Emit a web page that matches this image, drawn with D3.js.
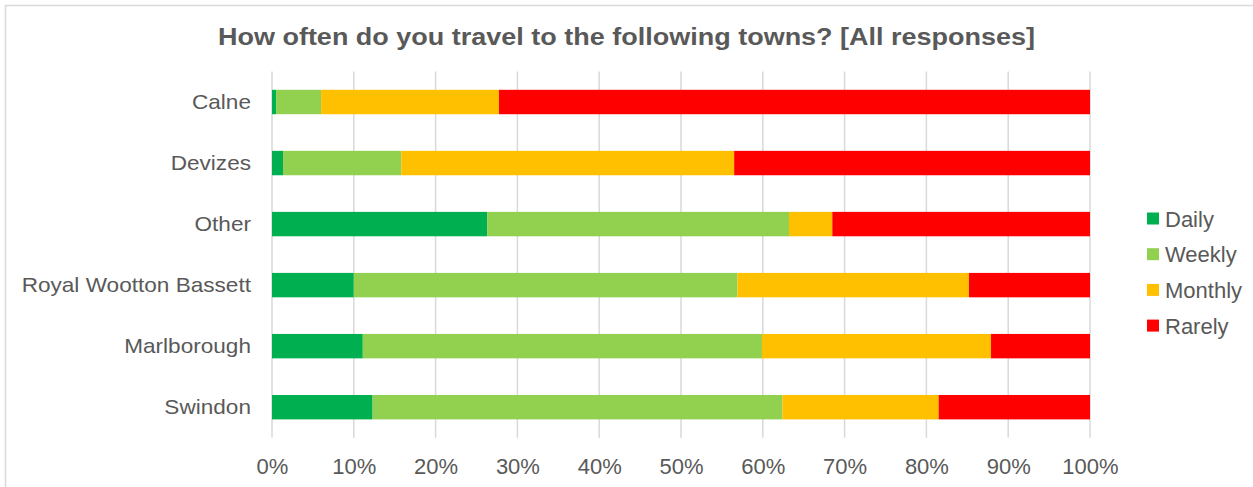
<!DOCTYPE html>
<html>
<head>
<meta charset="utf-8">
<script src="https://cdn.jsdelivr.net/npm/d3@7"></script>
<style>
  html, body { margin: 0; padding: 0; background: #fff; }
  svg { display: block; font-family: "Liberation Sans", Arial, Helvetica, sans-serif; }
</style>
</head>
<body>
<svg id="chart" width="1253" height="487"></svg>
<script>
// ---- Data ----
const title = "How often do you travel to the following towns? [All responses]";
const categories = ["Calne", "Devizes", "Other", "Royal Wootton Bassett", "Marlborough", "Swindon"];
const seriesNames = ["Daily", "Weekly", "Monthly", "Rarely"];
const daily   = [0.5, 1.35, 26.3, 10.0, 11.1, 12.3];
const weekly  = [5.5, 14.45, 36.9, 46.9, 48.8, 50.1];
const monthly = [21.75, 40.7, 5.3, 28.3, 28.0, 19.1];
const rarely  = [72.25, 43.5, 31.5, 14.8, 12.1, 18.5];
const colors  = ["#00B050", "#92D050", "#FFC000", "#FF0000"];
const xTicks  = [0, 10, 20, 30, 40, 50, 60, 70, 80, 90, 100];

(function () {
// table for d3.stack built from the arrays
const seriesValues = [daily, weekly, monthly, rarely];
const table = categories.map((c, i) => {
  const row = { cat: c };
  seriesNames.forEach((s, j) => row[s] = seriesValues[j][i]);
  return row;
});

const svg = d3.select("#chart");
const textColor = "#595959";
const plotLeft = 272, plotRight = 1090, plotTop = 71.5, plotBottom = 437.7;

// chart border (cropped frame)
svg.append("line").attr("x1", 5).attr("x2", 1253).attr("y1", 5.5).attr("y2", 5.5)
  .attr("stroke", "#d9d9d9").attr("stroke-width", 1.5);
svg.append("line").attr("x1", 5.5).attr("x2", 5.5).attr("y1", 5).attr("y2", 487)
  .attr("stroke", "#d9d9d9").attr("stroke-width", 1.5);

// title
svg.append("text")
  .attr("transform", "translate(626.5,45) scale(1.125,1)")
  .attr("text-anchor", "middle")
  .attr("font-size", 24).attr("font-weight", "bold")
  .attr("fill", textColor)
  .text(title);

const x = d3.scaleLinear().domain([0, 100]).range([plotLeft, plotRight]);
const y = d3.scaleBand().domain(categories).range([plotTop, plotBottom])
  .paddingInner(0.6).paddingOuter(0.3);

// gridlines
svg.append("g").selectAll("line").data(xTicks).join("line")
  .attr("x1", d => x(d)).attr("x2", d => x(d))
  .attr("y1", plotTop).attr("y2", plotBottom)
  .attr("stroke", "#d9d9d9").attr("stroke-width", 1.5);

// bars
const stacked = d3.stack().keys(seriesNames)(table);
svg.append("g").selectAll("g").data(stacked).join("g")
  .attr("fill", (d, i) => colors[i])
  .selectAll("rect").data(d => d).join("rect")
  .attr("x", d => x(d[0]))
  .attr("width", d => x(d[1]) - x(d[0]))
  .attr("y", d => y(d.data.cat))
  .attr("height", y.bandwidth());

// y axis
const yAxis = svg.append("g").attr("transform", `translate(${plotLeft},0)`)
  .call(d3.axisLeft(y).tickSize(0).tickPadding(0));
yAxis.select(".domain").remove();
yAxis.selectAll("text")
  .attr("x", -18.6).attr("y", 7.3).attr("dy", 0)
  .attr("transform", "scale(1.13,1)")
  .attr("font-size", 20)
  .attr("font-family", "Liberation Sans, Arial, sans-serif")
  .attr("fill", textColor);

// x axis
const xAxis = svg.append("g").attr("transform", `translate(0,${plotBottom})`)
  .call(d3.axisBottom(x).tickValues(xTicks).tickSize(0).tickFormat(d => d + "%"));
xAxis.select(".domain").remove();
xAxis.selectAll("text")
  .attr("y", 36.3).attr("dy", 0)
  .attr("font-size", 22)
  .attr("font-family", "Liberation Sans, Arial, sans-serif")
  .attr("fill", textColor);

// legend
const legend = svg.append("g").selectAll("g").data(seriesNames).join("g")
  .attr("transform", (d, i) => `translate(1147,${218.5 + i * 35.7})`);
legend.append("rect").attr("x", 0).attr("y", -6).attr("width", 12).attr("height", 12)
  .attr("fill", (d, i) => colors[i]);
legend.append("text").attr("x", 18).attr("y", 8.2)
  .attr("font-size", 22).attr("fill", textColor)
  .text(d => d);
})();
</script>
</body>
</html>
